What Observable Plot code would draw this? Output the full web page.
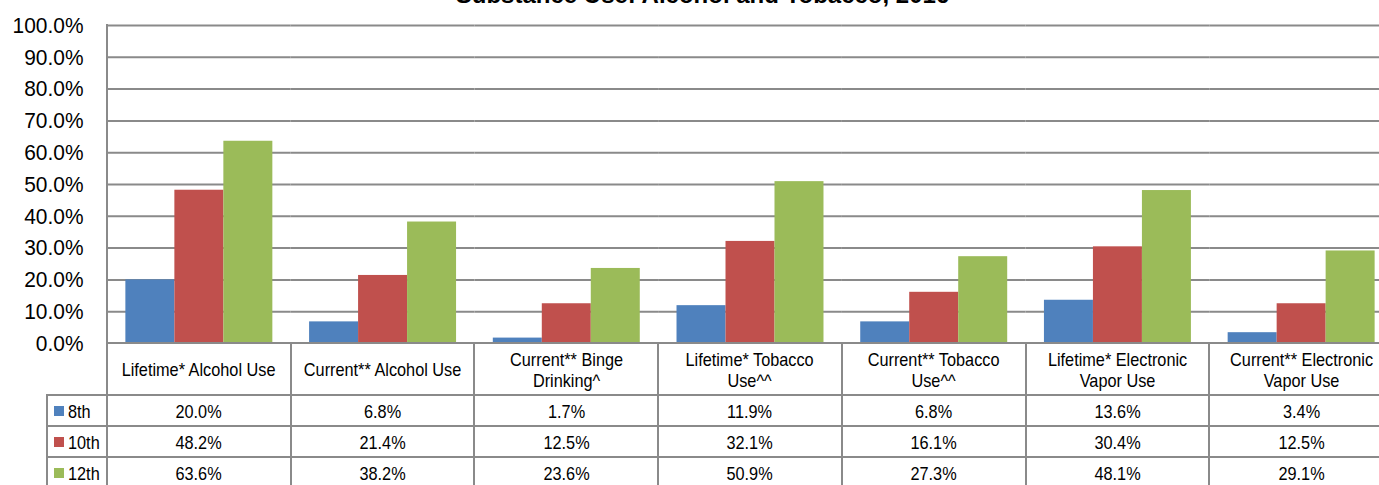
<!DOCTYPE html>
<html>
<head>
<meta charset="utf-8">
<script src="https://cdn.jsdelivr.net/npm/d3@7"></script>
<script src="https://cdn.jsdelivr.net/npm/@observablehq/plot@0.6"></script>
<style>
  html, body { margin: 0; padding: 0; background: #fff; overflow: hidden; }
  #wrap { position: relative; width: 1379px; height: 485px; overflow: hidden; background: #fff; }
  #inner { position: absolute; left: 0; top: 0; width: 1400px; height: 500px; }
  #title { position: absolute; left: 0; width: 1405px; top: -19px; text-align: center;
           font: bold 24px "Liberation Sans", Arial, sans-serif; color: #000; white-space: nowrap; }
  #chart { position: absolute; left: 0; top: 0; }
  .ln { position: absolute; background: #8a8a8a; }
  .cell { position: absolute; display: flex; align-items: center; justify-content: center; text-align: center;
          font-family: "Liberation Sans", Arial, sans-serif;
          font-size: 18.5px; color: #000; line-height: 21px; box-sizing: border-box; }
  .cell span { display: block; flex: none; transform: scaleX(0.88); text-align: center; }
  .key { position: absolute; width: 10px; height: 10px; }
</style>
</head>
<body>
<div id="wrap"><div id="inner">
  <div id="chart"></div>
  <div id="table"></div>
  <div id="title">Substance Use: Alcohol and Tobacco, 2016</div>
</div></div>
<script>
// ---- data ----
const categories = [
  "Lifetime* Alcohol Use",
  "Current** Alcohol Use",
  "Current** Binge Drinking^",
  "Lifetime* Tobacco Use^^",
  "Current** Tobacco Use^^",
  "Lifetime* Electronic Vapor Use",
  "Current** Electronic Vapor Use"
];
const grades = ["8th", "10th", "12th"];
const grade8 = [20.0, 6.8, 1.7, 11.9, 6.8, 13.6, 3.4];
const grade10 = [48.2, 21.4, 12.5, 32.1, 16.1, 30.4, 12.5];
const grade12 = [63.6, 38.2, 23.6, 50.9, 27.3, 48.1, 29.1];
const colors = ["#4F81BD", "#C0504D", "#9BBB59"];

const series = [grade8, grade10, grade12];
const rows = [];
categories.forEach((cat, i) => grades.forEach((g, j) => rows.push({cat, grade: g, value: series[j][i]})));

const FONT = '"Liberation Sans", Arial, sans-serif';
const W = 1393, H = 485, ML = 107, MT = 25, MB = 142;
const SX = 0.88;

const plot = Plot.plot({
  width: W, height: H,
  marginLeft: ML, marginRight: 0, marginTop: MT, marginBottom: MB,
  style: {fontFamily: FONT, fontSize: "22.5px", color: "#000", background: "transparent", maxWidth: "none", overflow: "visible"},
  fx: {domain: categories, padding: 0, round: false, axis: null, label: null},
  x: {domain: grades, paddingInner: 0, paddingOuter: 0.375, round: false, axis: null},
  y: {domain: [0, 100], ticks: 10, tickFormat: d => d.toFixed(1) + "%", tickSize: 0, tickPadding: 24, label: null},
  color: {domain: grades, range: colors},
  marks: [
    Plot.ruleY(d3.range(10, 101, 10), {stroke: "#8a8a8a", strokeWidth: 2, strokeOpacity: 1}),
    Plot.barY(rows, {fx: "cat", x: "grade", y: "value", fill: "grade"})
  ]
});
document.getElementById("chart").appendChild(plot);

// slightly condensed tick labels (reference uses a narrow face)
d3.select(plot).selectAll('g[aria-label="y-axis tick label"] text').each(function() {
  const t = this.getAttribute("transform") || "";
  const x = +(this.getAttribute("x") || 0);
  this.setAttribute("transform", `${t} translate(${x},0) scale(0.93,1) translate(${-x},0)`);
});

// ---- data table below the chart, aligned on the fx scale ----
const fx = plot.scale("fx");
const yS = plot.scale("y");
const y0 = yS.apply(0);
const colLeft = categories.map(c => fx.apply(c));
const bw = fx.bandwidth;
const tbl = document.getElementById("table");
const headerH = 52, rowH = 31, legendLeft = 47;
const rowTops = grades.map((g, j) => y0 + headerH + j * rowH);
const bottom = 500;
function line(x, y, w, h) {
  const d = document.createElement("div");
  d.className = "ln";
  Object.assign(d.style, {left: x + "px", top: y + "px", width: w + "px", height: h + "px"});
  tbl.appendChild(d);
}
function cell(x, y, w, h, text, pad) {
  const d = document.createElement("div");
  d.className = "cell";
  Object.assign(d.style, {left: x + "px", top: y + "px", width: w + "px", height: h + "px"});
  const s = document.createElement("span");
  s.style.width = ((w - 2 * pad) / SX) + "px";
  s.textContent = text;
  d.appendChild(s);
  tbl.appendChild(d);
  return d;
}
// axis line and frame
line(ML - 1, MT - 1, 2, bottom);
line(ML, y0 - 1, W - ML, 2);
rowTops.forEach(t => line(legendLeft, t - 1, W - legendLeft, 2));
line(legendLeft, rowTops[2] + rowH - 1, W - legendLeft, 2);
line(legendLeft - 1, rowTops[0] - 1, 2, bottom);
colLeft.forEach((x, i) => { if (i > 0) line(x - 1, y0, 2, bottom); });
line(colLeft[6] + bw - 1, y0, 2, bottom);
// header cells
categories.forEach((c, i) => cell(colLeft[i], y0 + 1, bw, headerH - 1, c, 6));
// value rows
grades.forEach((g, j) => {
  categories.forEach((c, i) => cell(colLeft[i], rowTops[j] + 1, bw, rowH - 1, series[j][i].toFixed(1) + "%", 6));
  const k = document.createElement("div");
  k.className = "key";
  Object.assign(k.style, {left: "54px", top: (rowTops[j] + rowH / 2 - 5) + "px", background: colors[j]});
  tbl.appendChild(k);
  const t = document.createElement("div");
  t.className = "cell";
  Object.assign(t.style, {left: "68px", top: (rowTops[j] + 1) + "px", height: (rowH - 1) + "px", justifyContent: "flex-start"});
  const s = document.createElement("span");
  s.style.transformOrigin = "left center";
  s.textContent = g;
  t.appendChild(s);
  tbl.appendChild(t);
});
</script>
</body>
</html>
